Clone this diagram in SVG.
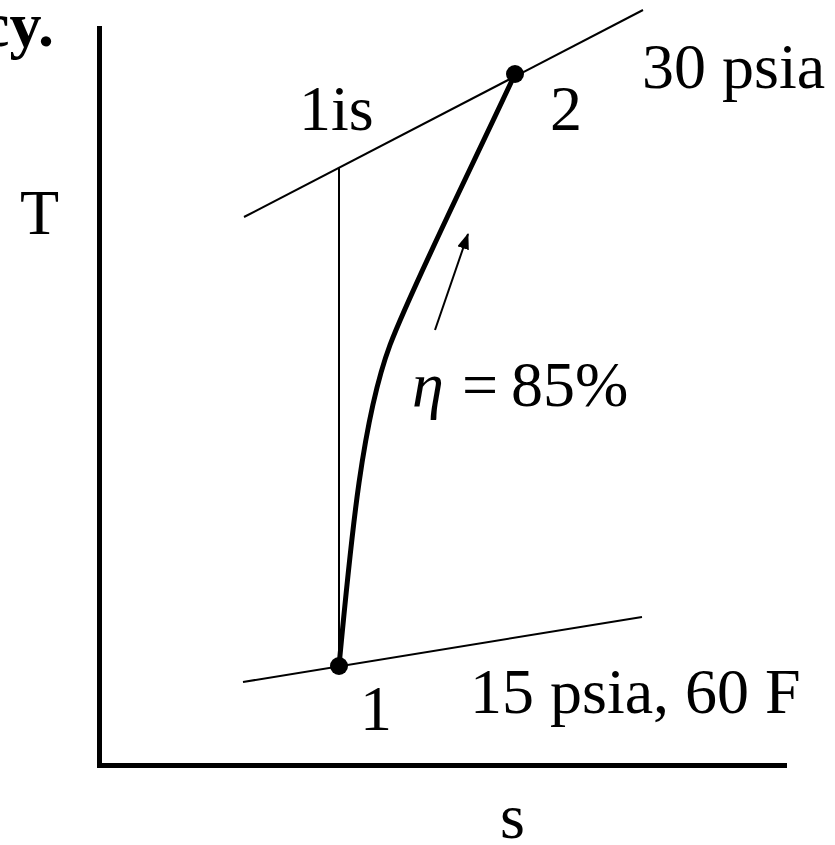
<svg xmlns="http://www.w3.org/2000/svg" width="835" height="845" viewBox="0 0 835 845">
<defs>
<style>
text{font-family:"Liberation Serif","Times New Roman",serif;fill:#000}
.lbl{font-size:64px}
.thin{stroke:#000;stroke-width:2;fill:none}
.axis{stroke:#000;stroke-width:5;fill:none}
.thick{stroke:#000;stroke-width:5;fill:none}
</style>
<marker id="ah" viewBox="0 0 16 12" refX="15" refY="6" markerWidth="16" markerHeight="12" orient="auto" markerUnits="userSpaceOnUse">
<path d="M0,0 L16,6 L0,12 Z" fill="#000"/>
</marker>
</defs>
<rect width="835" height="845" fill="#fff"/>
<text x="-19" y="46" font-size="64" font-weight="bold">cy.</text>
<g id="axes">
<path class="axis" d="M99.5,26 V765.5 H787"/>
</g>
<g id="connectors">
<line class="thin" x1="244" y1="217" x2="643" y2="10"/>
<line class="thin" x1="243" y1="682" x2="642" y2="617"/>
<line class="thin" x1="339" y1="168" x2="339" y2="666"/>
<path class="thick" d="M339,666 C351,540 362,420 390,345 C412,287 468,175 515,74"/>
<line class="thin" x1="435" y1="330" x2="468" y2="234" marker-end="url(#ah)"/>
</g>
<g id="node-1">
<circle cx="339" cy="666" r="9" fill="#000"/>
<text class="lbl" x="360" y="730">1</text>
</g>
<g id="node-2">
<circle cx="515" cy="74" r="9" fill="#000"/>
<text class="lbl" x="550" y="130">2</text>
</g>
<g id="node-1is">
<text class="lbl" x="299" y="130">1is</text>
</g>
<g id="labels">
<text class="lbl" x="642" y="88">30 psia</text>
<text class="lbl" x="470" y="713">15 psia, 60 F</text>
<text class="lbl" x="20" y="234">T</text>
<text class="lbl" x="500" y="838">s</text>
<text class="lbl" x="412" y="406" font-style="italic">η</text>
<text class="lbl" x="462" y="406">=</text>
<text class="lbl" x="511" y="406">85%</text>
</g>
</svg>
